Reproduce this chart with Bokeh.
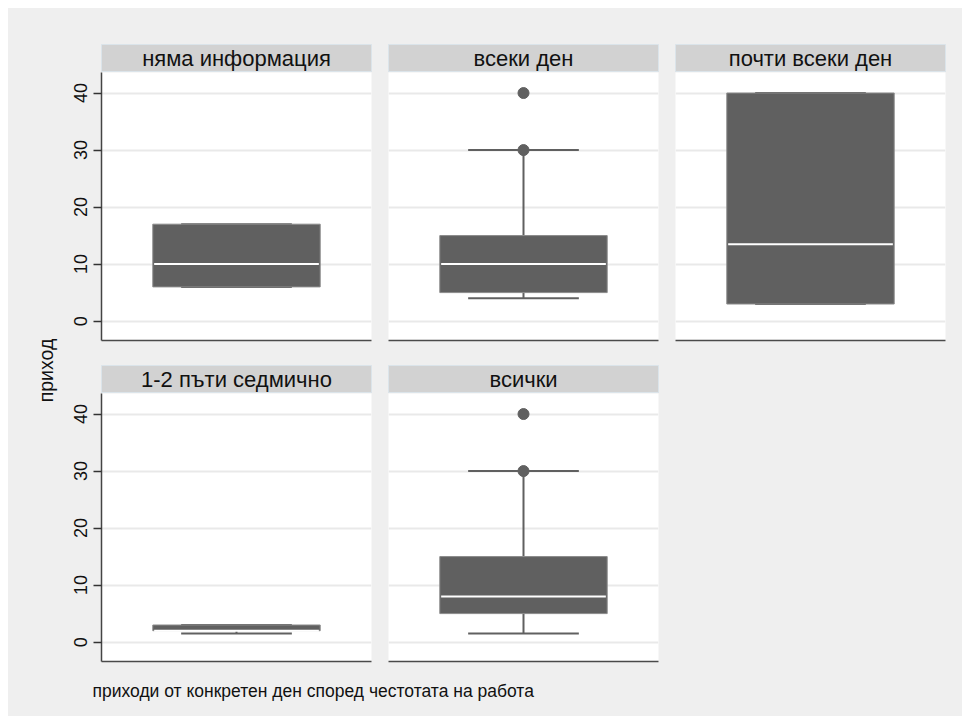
import math
from bokeh.plotting import figure
from bokeh.layouts import row, column
from bokeh.models import Range1d, FixedTicker, Grid, Spacer
from bokeh.core.properties import value
from bokeh.embed import file_html
from bokeh.resources import INLINE

# ---- data ----
categories = ["няма информация", "всеки ден", "почти всеки ден", "1-2 пъти седмично", "всички"]
q1 = [6, 5, 3, 2, 5]
median = [10, 10, 13.5, 2, 8]
q3 = [17, 15, 40, 3, 15]
whisk_lo = [6, 4, 3, 1.5, 1.5]
whisk_hi = [17, 30, 40, 3, 30]
outliers = [[], [30, 40], [], [], [30, 40]]
y_ticks = [0, 10, 20, 30, 40]
y_label = "приход"
note = "приходи от конкретен ден според честотата на работа"

FONT = value("Liberation Sans")
BG = "#efefef"
BOX = "#606060"
GRID = "#e9e9e9"
STRIP = "#d2d2d2"

FW, FH, SH = 270, 268, 28
LW = 50
borders = [(43, 17), (0, 17), (0, 17)]


def strip(idx, col, top):
    lb, rb = borders[col]
    s = figure(frame_width=FW, frame_height=SH, x_range=Range1d(0, 1), y_range=Range1d(0, 1),
               x_axis_location=None, y_axis_location=None, toolbar_location=None,
               output_backend="svg", min_border_left=lb, min_border_right=rb,
               min_border_top=top, min_border_bottom=0)
    s.xgrid.grid_line_color = None
    s.ygrid.grid_line_color = None
    s.background_fill_color = STRIP
    s.border_fill_color = BG
    s.outline_line_color = "#dbe4ea"
    s.text(x=[0.5], y=[0.5], text=[categories[idx]], text_font=FONT, text_font_size="22px",
           text_align="center", text_baseline="middle", text_color="#111111")
    return s


def panel(idx, col, bottom):
    lb, rb = borders[col]
    p = figure(frame_width=FW, frame_height=FH, x_range=Range1d(0, 1), y_range=Range1d(-3.4, 43.6),
               x_axis_location="below", y_axis_location=("left" if col == 0 else None),
               toolbar_location=None, output_backend="svg",
               min_border_left=lb, min_border_right=rb, min_border_top=0, min_border_bottom=bottom)
    p.xgrid.grid_line_color = None
    p.ygrid.grid_line_color = None
    p.add_layout(Grid(dimension=1, ticker=FixedTicker(ticks=y_ticks), grid_line_color=GRID,
                      grid_line_width=2), "center")
    p.background_fill_color = "white"
    p.border_fill_color = BG
    p.outline_line_color = None
    p.xaxis.ticker = FixedTicker(ticks=[])
    p.xaxis.major_tick_line_color = None
    p.xaxis.minor_tick_line_color = None
    p.xaxis.major_label_text_font_size = "0px"
    p.xaxis.axis_line_color = "#4a4a4a"
    p.xaxis.axis_line_width = 1.5
    if col == 0:
        ax = p.yaxis[0]
        ax.ticker = FixedTicker(ticks=y_ticks)
        ax.major_label_orientation = "vertical"
        ax.major_label_text_font = "Liberation Sans"
        ax.major_label_text_font_size = "18px"
        ax.major_label_text_color = "#111111"
        ax.major_tick_out = 8
        ax.major_tick_in = 0
        ax.minor_tick_line_color = None
        ax.major_tick_line_color = "#333333"
        ax.major_tick_line_width = 1.5
        ax.axis_line_color = "#444444"
        ax.axis_line_width = 1.5
        ax.major_label_standoff = 6
    cx = 0.5
    # whiskers
    p.segment(x0=[cx, cx], y0=[whisk_lo[idx], q3[idx]], x1=[cx, cx], y1=[q1[idx], whisk_hi[idx]],
              line_color=BOX, line_width=2)
    p.segment(x0=[cx - 0.205, cx - 0.205], y0=[whisk_lo[idx], whisk_hi[idx]],
              x1=[cx + 0.205, cx + 0.205], y1=[whisk_lo[idx], whisk_hi[idx]],
              line_color=BOX, line_width=2)
    # box
    p.quad(left=[cx - 0.31], right=[cx + 0.31], bottom=[q1[idx]], top=[q3[idx]],
           fill_color=BOX, line_color="#8a8a8a", line_width=1)
    # median
    p.segment(x0=[cx - 0.305], y0=[median[idx]], x1=[cx + 0.305], y1=[median[idx]],
              line_color="white", line_width=2)
    # outliers
    if outliers[idx]:
        p.scatter(x=[cx] * len(outliers[idx]), y=outliers[idx], size=11,
                  fill_color=BOX, line_color=BOX)
    return p


# left figure with shared y-axis label
lf = figure(frame_width=LW, frame_height=708, x_range=Range1d(0, LW), y_range=Range1d(0, 708),
            x_axis_location=None, y_axis_location=None, toolbar_location=None,
            output_backend="svg", min_border=0)
lf.xgrid.grid_line_color = None
lf.ygrid.grid_line_color = None
lf.background_fill_color = BG
lf.border_fill_color = BG
lf.outline_line_color = None
lf.text(x=[37], y=[708 - 362], text=[y_label], angle=math.pi / 2, text_font=FONT,
        text_font_size="19.5px", text_align="center", text_baseline="middle", text_color="#111111")

# note figure
NW = 904
nf = figure(frame_width=NW, frame_height=45, x_range=Range1d(0, NW), y_range=Range1d(0, 45),
            x_axis_location=None, y_axis_location=None, toolbar_location=None,
            output_backend="svg", min_border=0)
nf.xgrid.grid_line_color = None
nf.ygrid.grid_line_color = None
nf.background_fill_color = BG
nf.border_fill_color = BG
nf.outline_line_color = None
nf.text(x=[34], y=[26], text=[note], text_font=FONT, text_font_size="17.5px",
        text_align="left", text_baseline="middle", text_color="#111111")

r1s = row(strip(0, 0, 36), strip(1, 1, 36), strip(2, 2, 36))
r1p = row(panel(0, 0, 25), panel(1, 1, 25), panel(2, 2, 25))
r2s = row(strip(3, 0, 0), strip(4, 1, 0), Spacer(width=287, height=SH, styles={"background-color": BG}))
r2p = row(panel(3, 0, 10), panel(4, 1, 10), Spacer(width=287, height=FH + 10, styles={"background-color": BG}))

right = column(r1s, r1p, r2s, r2p, nf, styles={"background-color": BG})
root = row(lf, right, styles={"background-color": BG, "margin": "8px"})

open("out.html", "w").write(file_html(root, INLINE))
